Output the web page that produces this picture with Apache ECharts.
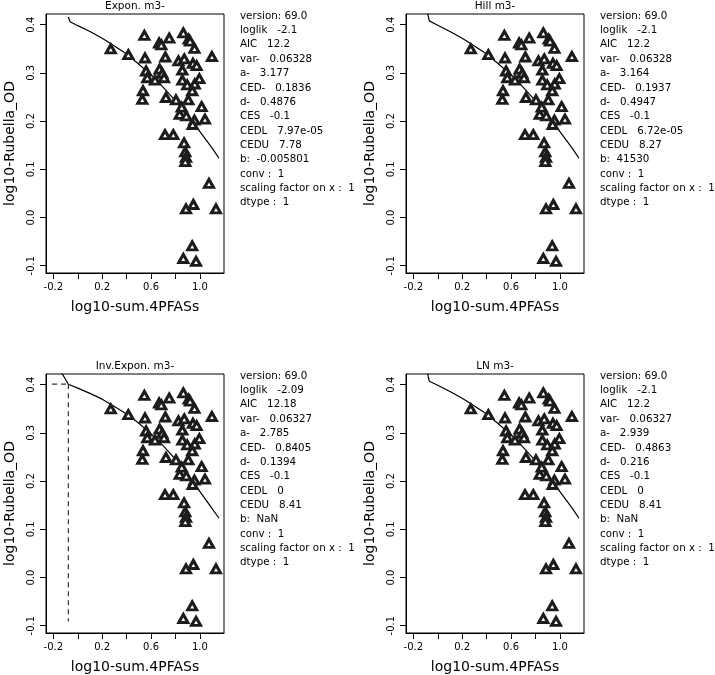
<!DOCTYPE html>
<html>
<head>
<meta charset="utf-8">
<script src="https://cdn.jsdelivr.net/npm/echarts@6/dist/echarts.min.js"></script>
<style>html,body{margin:0;padding:0;background:#fff}#c{width:715px;height:675px}</style>
</head>
<body>
<div id="c"></div>
<script>
// observed data (log10 scale)
const obsX = [0.270,0.414,0.545,0.550,0.559,0.569,0.534,0.528,0.632,0.666,0.684,0.670,0.692,0.706,0.717,0.722,0.749,0.714,0.782,0.804,0.824,0.834,0.851,0.856,0.856,0.864,0.872,0.870,0.888,0.896,0.905,0.880,0.886,0.880,0.886,0.946,0.937,0.864,0.968,0.908,0.919,0.955,0.943,0.973,0.957,0.937,0.995,0.955,0.940,1.014,1.041,1.098,1.074,1.131];
const obsY = [0.350,0.338,0.378,0.331,0.304,0.290,0.263,0.245,0.285,0.362,0.358,0.308,0.299,0.290,0.333,0.249,0.372,0.172,0.172,0.244,0.325,0.214,0.229,0.306,0.285,0.383,0.329,0.155,0.211,0.275,0.244,0.136,0.125,0.116,0.018,0.027,-0.059,-0.085,-0.091,0.370,0.366,0.351,0.320,0.315,0.277,0.263,0.288,0.202,0.193,0.230,0.204,0.334,0.071,0.018];

// fitted curves
const expX = [-0.077,-0.063,0,0.1,0.2,0.3,0.4,0.5,0.6,0.7,0.8,0.9,1.0,1.1,1.156];
const expY = [0.416,0.406,0.398,0.386,0.372,0.356,0.339,0.318,0.296,0.270,0.242,0.210,0.178,0.144,0.123];
const hillX = [-0.085,-0.069,0,0.1,0.2,0.3,0.4,0.5,0.6,0.7,0.8,0.9,1.0,1.1,1.156];
const hillY = [0.425,0.408,0.399,0.386,0.372,0.356,0.339,0.318,0.296,0.270,0.242,0.210,0.178,0.144,0.123];
const invX = [-0.135,-0.077,0,0.1,0.2,0.3,0.4,0.5,0.6,0.7,0.8,0.9,1.0,1.1,1.156];
const invY = [0.426,0.401,0.393,0.382,0.370,0.355,0.339,0.320,0.298,0.273,0.245,0.212,0.178,0.143,0.123];
const lnX = [-0.085,-0.069,0,0.1,0.2,0.3,0.4,0.5,0.6,0.7,0.8,0.9,1.0,1.1,1.156];
const lnY = [0.425,0.407,0.399,0.386,0.372,0.356,0.339,0.318,0.296,0.270,0.242,0.210,0.178,0.144,0.123];

// CED reference lines (Inv.Expon panel)
const cedLineH = [[-0.21,0.401],[-0.077,0.401]];
const cedLineV = [[-0.077,0.401],[-0.077,-0.091]];

// axis ticks
const xTicks = [-0.2,0,0.2,0.4,0.6,0.8,1.0,1.2];
const xTickLabels = [-0.2,0.2,0.6,1.0];
const yTicks = [-0.1,0,0.1,0.2,0.3,0.4];

const titles = ['Expon. m3-','Hill m3-','Inv.Expon. m3-','LN m3-'];
const texts = [
 ['version: 69.0','loglik   -2.1','AIC   12.2','var-   0.06328','a-   3.177','CED-   0.1836','d-   0.4876','CES   -0.1','CEDL   7.97e-05','CEDU   7.78','b:  -0.005801','conv :  1','scaling factor on x :  1','dtype :  1'],
 ['version: 69.0','loglik   -2.1','AIC   12.2','var-   0.06328','a-   3.164','CED-   0.1937','d-   0.4947','CES   -0.1','CEDL   6.72e-05','CEDU   8.27','b:  41530','conv :  1','scaling factor on x :  1','dtype :  1'],
 ['version: 69.0','loglik   -2.09','AIC   12.18','var-   0.06327','a-   2.785','CED-   0.8405','d-   0.1394','CES   -0.1','CEDL   0','CEDU   8.41','b:  NaN','conv :  1','scaling factor on x :  1','dtype :  1'],
 ['version: 69.0','loglik   -2.1','AIC   12.2','var-   0.06327','a-   2.939','CED-   0.4863','d-   0.216','CES   -0.1','CEDL   0','CEDU   8.41','b:  NaN','conv :  1','scaling factor on x :  1','dtype :  1']
];
const xName = 'log10-sum.4PFASs';
const yName = 'log10-Rubella_OD';

const FONT = '"DejaVu Sans", sans-serif';
const offs = [[0,0],[360,0],[0,360],[360,360]];
const curves = [[expX,expY],[hillX,hillY],[invX,invY],[lnX,lnY]];
const zip = (a,b) => a.map((v,i)=>[v,b[i]]);

const grid=[], xAxis=[], yAxis=[], series=[], graphic=[];
offs.forEach(([dx,dy],k)=>{
  grid.push({left:46+dx, top:14+dy, width:178, height:259, show:true, borderColor:'#000', borderWidth:1, backgroundColor:'transparent'});
  xAxis.push({type:'value', gridIndex:k, min:-0.26, max:1.197,
    name:xName, nameLocation:'middle', nameGap:27, nameTextStyle:{fontFamily:FONT, fontSize:14, color:'#000'},
    axisLine:{show:true, onZero:false, lineStyle:{color:'#000', width:1}},
    axisTick:{show:true, inside:false, length:6, customValues:xTicks, lineStyle:{color:'#000'}},
    axisLabel:{customValues:xTickLabels, formatter:v=>v.toFixed(1), fontFamily:FONT, fontSize:10, color:'#000', margin:9},
    splitLine:{show:false}});
  yAxis.push({type:'value', gridIndex:k, min:-0.1151, max:0.4222,
    name:yName, nameLocation:'middle', nameGap:29, nameTextStyle:{fontFamily:FONT, fontSize:14, color:'#000'},
    axisLine:{show:true, onZero:false, lineStyle:{color:'#000', width:1}},
    axisTick:{show:true, inside:false, length:6, customValues:yTicks, lineStyle:{color:'#000'}},
    axisLabel:{customValues:yTicks, formatter:v=>v.toFixed(1), rotate:90, fontFamily:FONT, fontSize:10, color:'#000', margin:10},
    splitLine:{show:false}});
  series.push({type:'scatter', xAxisIndex:k, yAxisIndex:k, data:zip(obsX,obsY), symbol:'triangle', symbolSize:[9,8],
    itemStyle:{color:'#fff', borderColor:'#1c1c1c', borderWidth:3, opacity:1}, silent:true, z:3});
  series.push({type:'line', xAxisIndex:k, yAxisIndex:k, data:zip(curves[k][0],curves[k][1]), showSymbol:false, symbol:'none',
    lineStyle:{color:'#000', width:1.2}, clip:true, silent:true, z:2});
  graphic.push({type:'text', x:135+dx, y:6+dy, style:{text:titles[k], font:'10.5px '+FONT, fill:'#000', align:'center', verticalAlign:'middle', textAlign:'center', textVerticalAlign:'middle'}});
  texts[k].forEach((t,i)=>{
    graphic.push({type:'text', x:240+dx, y:16+dy+i*14.37, style:{text:t, font:'10.3px '+FONT, fill:'#000', align:'left', verticalAlign:'middle', textAlign:'left', textVerticalAlign:'middle'}});
  });
});
series.push({type:'line', xAxisIndex:2, yAxisIndex:2, data:cedLineH, showSymbol:false, symbol:'none', lineStyle:{color:'#333', width:1.2, type:[5,4]}, silent:true});
series.push({type:'line', xAxisIndex:2, yAxisIndex:2, data:cedLineV, showSymbol:false, symbol:'none', lineStyle:{color:'#333', width:1.2, type:[5,4]}, silent:true});

const chart = echarts.init(document.getElementById('c'), null, {renderer:'canvas'});
chart.setOption({animation:false, backgroundColor:'#fff', grid, xAxis, yAxis, series, graphic});
</script>
</body>
</html>
